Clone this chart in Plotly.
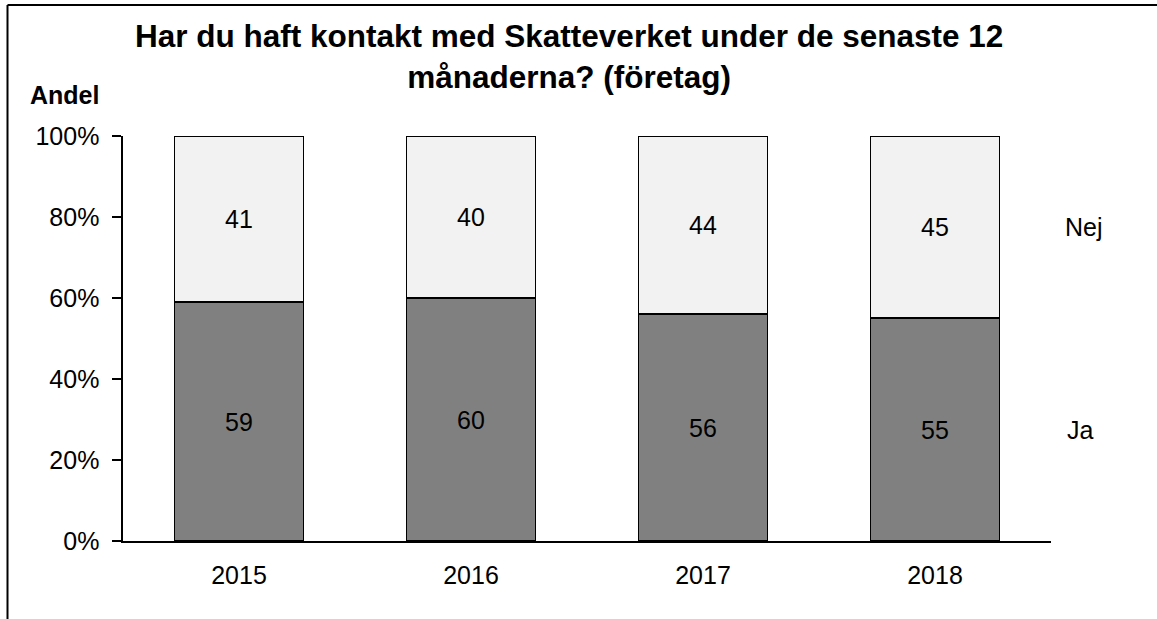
import plotly.graph_objects as go

years = ["2015", "2016", "2017", "2018"]
ja = [59, 60, 56, 55]
nej = [41, 40, 44, 45]
y_ticks = [0, 20, 40, 60, 80, 100]
y_tick_labels = ["0%", "20%", "40%", "60%", "80%", "100%"]
title_text = "Har du haft kontakt med Skatteverket under de senaste 12<br>månaderna? (företag)"
y_title = "Andel"

FONT = "Liberation Sans, Arial, sans-serif"
W, H = 1157, 619
ML, MR, MT, MB = 123, 106, 136, 78
PW, PH = W - ML - MR, H - MT - MB
FS = 25


def px_x(p):
    return (p - ML) / PW


def px_y(p):
    return (H - MB - p) / PH


fig = go.Figure()
fig.add_trace(go.Bar(
    x=years, y=ja, name="Ja",
    marker=dict(color="#808080", line=dict(color="#000000", width=1.6)),
    text=[str(v) for v in ja], textposition="inside", insidetextanchor="middle",
    textfont=dict(family=FONT, size=FS, color="#000000"),
    width=0.555, hoverinfo="skip",
))
fig.add_trace(go.Bar(
    x=years, y=nej, name="Nej",
    marker=dict(color="#f2f2f2", line=dict(color="#000000", width=1.6)),
    text=[str(v) for v in nej], textposition="inside", insidetextanchor="middle",
    textfont=dict(family=FONT, size=FS, color="#000000"),
    width=0.555, hoverinfo="skip",
))

annotations = [
    dict(text="<b>" + title_text.replace("<br>", "</b><br><b>") + "</b>",
         xref="paper", yref="paper", x=px_x(569), y=px_y(57),
         xanchor="center", yanchor="middle", showarrow=False,
         font=dict(family=FONT, size=31.5, color="#000000"), align="center"),
    dict(text="<b>" + y_title + "</b>", xref="paper", yref="paper",
         x=px_x(64), y=px_y(95), xanchor="center", yanchor="middle",
         showarrow=False, font=dict(family=FONT, size=FS, color="#000000")),
    dict(text="Nej", xref="paper", yref="y", x=px_x(1063),
         y=ja[-1] + nej[-1] / 2, xanchor="left", yanchor="middle",
         showarrow=False, font=dict(family=FONT, size=FS, color="#000000")),
    dict(text="Ja", xref="paper", yref="y", x=px_x(1065),
         y=ja[-1] / 2, xanchor="left", yanchor="middle",
         showarrow=False, font=dict(family=FONT, size=FS, color="#000000")),
]

shapes = [
    dict(type="line", xref="paper", yref="paper",
         x0=px_x(7.5), x1=px_x(W + 5), y0=px_y(5), y1=px_y(5),
         line=dict(color="#000000", width=2)),
    dict(type="line", xref="paper", yref="paper",
         x0=px_x(7.5), x1=px_x(7.5), y0=px_y(5), y1=px_y(H + 5),
         line=dict(color="#000000", width=2)),
]

fig.update_layout(
    width=W, height=H, autosize=False,
    margin=dict(l=ML, r=MR, t=MT, b=MB, pad=0),
    barmode="stack", showlegend=False,
    plot_bgcolor="#ffffff", paper_bgcolor="#ffffff",
    font=dict(family=FONT, size=FS, color="#000000"),
    annotations=annotations, shapes=shapes,
    uniformtext=dict(mode=False),
)
fig.update_xaxes(
    type="category", showgrid=False, showline=True, linecolor="#000000",
    linewidth=1.6, ticks="", tickfont=dict(family=FONT, size=FS, color="#000000"),
    ticklabelstandoff=11, zeroline=False,
)
fig.update_yaxes(
    range=[0, 100], tickvals=y_ticks, ticktext=y_tick_labels,
    showgrid=False, showline=True, linecolor="#000000", linewidth=1.6,
    ticks="outside", ticklen=9, tickcolor="#000000", tickwidth=1.6,
    tickfont=dict(family=FONT, size=FS, color="#000000"),
    ticklabelstandoff=8, zeroline=False,
)

fig.write_html(
    "out.html",
    config={"displayModeBar": False, "staticPlot": True},
    post_script="document.body.style.margin='0';document.body.style.overflow='hidden';",
)
